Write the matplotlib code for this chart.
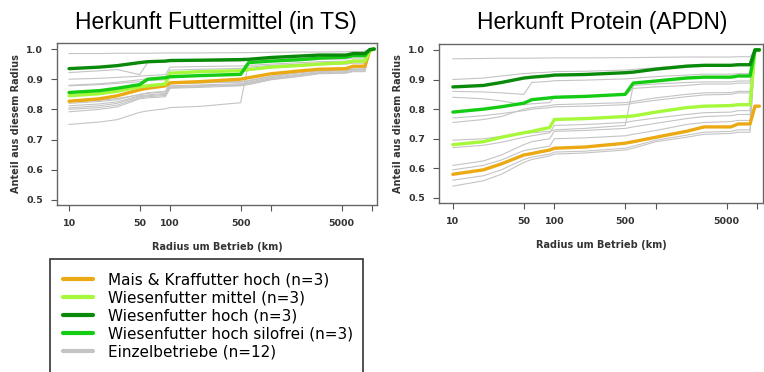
import numpy as np
import matplotlib
matplotlib.use('Agg')
import matplotlib.pyplot as plt
from matplotlib.patches import Rectangle

# shared radius grid (km)
radius = [10, 20, 30, 50, 60, 90, 100, 200, 500, 600, 1000, 2000, 3000, 5500, 6500, 8500, 9500, 10500]

# --- Herkunft Futtermittel (in TS) ---
feed_mais = [0.827, 0.835, 0.845, 0.865, 0.870, 0.878, 0.888, 0.892, 0.900, 0.905, 0.918, 0.928, 0.933, 0.935, 0.943, 0.943, 0.995, 1.0]
feed_mittel = [0.845, 0.852, 0.860, 0.875, 0.878, 0.884, 0.920, 0.925, 0.928, 0.932, 0.940, 0.946, 0.950, 0.955, 0.960, 0.960, 0.995, 1.0]
feed_hoch = [0.935, 0.940, 0.945, 0.955, 0.958, 0.960, 0.962, 0.963, 0.965, 0.966, 0.972, 0.977, 0.980, 0.980, 0.985, 0.985, 0.998, 1.0]
feed_silofrei = [0.856, 0.862, 0.870, 0.882, 0.900, 0.905, 0.908, 0.912, 0.916, 0.955, 0.960, 0.965, 0.970, 0.973, 0.978, 0.978, 0.998, 1.0]
feed_single = [
    [0.985, 0.985, 0.986, 0.986, 0.986, 0.987, 0.987, 0.987, 0.988, 0.988, 0.989, 0.990, 0.990, 0.991, 0.992, 0.992, 1.0, 1.0],
    [0.922, 0.928, 0.932, 0.915, 0.955, 0.957, 0.958, 0.959, 0.960, 0.962, 0.966, 0.970, 0.973, 0.975, 0.978, 0.978, 1.0, 1.0],
    [0.900, 0.903, 0.906, 0.910, 0.912, 0.915, 0.940, 0.942, 0.944, 0.946, 0.950, 0.955, 0.958, 0.960, 0.963, 0.963, 1.0, 1.0],
    [0.880, 0.885, 0.890, 0.898, 0.902, 0.906, 0.930, 0.933, 0.936, 0.940, 0.946, 0.950, 0.953, 0.955, 0.958, 0.958, 1.0, 1.0],
    [0.878, 0.882, 0.886, 0.892, 0.895, 0.898, 0.920, 0.923, 0.926, 0.930, 0.938, 0.944, 0.948, 0.950, 0.953, 0.953, 1.0, 1.0],
    [0.820, 0.826, 0.832, 0.850, 0.853, 0.858, 0.885, 0.888, 0.892, 0.896, 0.910, 0.922, 0.928, 0.930, 0.934, 0.934, 1.0, 1.0],
    [0.812, 0.818, 0.825, 0.845, 0.848, 0.853, 0.878, 0.881, 0.885, 0.890, 0.905, 0.918, 0.925, 0.928, 0.932, 0.932, 1.0, 1.0],
    [0.805, 0.812, 0.820, 0.842, 0.845, 0.850, 0.875, 0.878, 0.882, 0.887, 0.902, 0.915, 0.922, 0.925, 0.930, 0.930, 1.0, 1.0],
    [0.800, 0.806, 0.814, 0.838, 0.842, 0.846, 0.872, 0.876, 0.880, 0.885, 0.900, 0.912, 0.920, 0.922, 0.927, 0.927, 1.0, 1.0],
    [0.792, 0.800, 0.808, 0.835, 0.838, 0.842, 0.870, 0.873, 0.878, 0.882, 0.898, 0.910, 0.918, 0.920, 0.925, 0.925, 1.0, 1.0],
    [0.750, 0.758, 0.766, 0.790, 0.795, 0.802, 0.806, 0.810, 0.822, 0.955, 0.958, 0.962, 0.965, 0.967, 0.970, 0.970, 1.0, 1.0],
    [0.825, 0.830, 0.836, 0.848, 0.855, 0.860, 0.885, 0.888, 0.890, 0.894, 0.908, 0.925, 0.932, 0.935, 0.938, 0.938, 1.0, 1.0],
]

# --- Herkunft Protein (APDN) ---
prot_mais = [0.580, 0.595, 0.615, 0.645, 0.650, 0.662, 0.668, 0.672, 0.685, 0.690, 0.705, 0.725, 0.740, 0.740, 0.750, 0.750, 0.810, 0.810]
prot_mittel = [0.680, 0.690, 0.705, 0.720, 0.725, 0.738, 0.765, 0.768, 0.775, 0.777, 0.790, 0.805, 0.810, 0.812, 0.815, 0.815, 1.0, 1.0]
prot_hoch = [0.875, 0.880, 0.890, 0.905, 0.908, 0.913, 0.915, 0.917, 0.923, 0.925, 0.935, 0.945, 0.948, 0.948, 0.950, 0.950, 1.0, 1.0]
prot_silofrei = [0.790, 0.800, 0.808, 0.820, 0.832, 0.838, 0.840, 0.843, 0.850, 0.888, 0.895, 0.905, 0.908, 0.908, 0.912, 0.912, 1.0, 1.0]
prot_single = [
    [0.970, 0.971, 0.972, 0.972, 0.972, 0.973, 0.973, 0.973, 0.974, 0.974, 0.975, 0.976, 0.976, 0.976, 0.977, 0.977, 1.0, 1.0],
    [0.900, 0.905, 0.912, 0.920, 0.922, 0.925, 0.927, 0.928, 0.932, 0.934, 0.940, 0.948, 0.950, 0.950, 0.952, 0.952, 1.0, 1.0],
    [0.860, 0.858, 0.855, 0.850, 0.890, 0.894, 0.896, 0.898, 0.902, 0.904, 0.910, 0.915, 0.918, 0.918, 0.920, 0.920, 1.0, 1.0],
    [0.840, 0.835, 0.828, 0.815, 0.818, 0.822, 0.842, 0.845, 0.848, 0.870, 0.875, 0.880, 0.885, 0.885, 0.888, 0.888, 1.0, 1.0],
    [0.770, 0.778, 0.785, 0.795, 0.800, 0.805, 0.808, 0.810, 0.815, 0.820, 0.830, 0.842, 0.848, 0.850, 0.855, 0.855, 1.0, 1.0],
    [0.755, 0.765, 0.775, 0.800, 0.805, 0.812, 0.815, 0.818, 0.822, 0.826, 0.838, 0.850, 0.855, 0.856, 0.860, 0.860, 1.0, 1.0],
    [0.695, 0.700, 0.708, 0.718, 0.720, 0.725, 0.730, 0.735, 0.745, 0.880, 0.885, 0.890, 0.892, 0.892, 0.895, 0.895, 1.0, 1.0],
    [0.670, 0.678, 0.688, 0.705, 0.710, 0.720, 0.745, 0.748, 0.755, 0.760, 0.770, 0.782, 0.788, 0.790, 0.795, 0.795, 1.0, 1.0],
    [0.610, 0.625, 0.645, 0.680, 0.690, 0.700, 0.725, 0.728, 0.735, 0.740, 0.752, 0.768, 0.775, 0.778, 0.782, 0.782, 1.0, 1.0],
    [0.595, 0.610, 0.628, 0.660, 0.665, 0.675, 0.700, 0.703, 0.710, 0.715, 0.728, 0.748, 0.755, 0.758, 0.762, 0.762, 1.0, 1.0],
    [0.560, 0.575, 0.595, 0.630, 0.638, 0.648, 0.655, 0.658, 0.668, 0.675, 0.695, 0.712, 0.722, 0.725, 0.730, 0.730, 1.0, 1.0],
    [0.540, 0.558, 0.580, 0.620, 0.630, 0.642, 0.648, 0.652, 0.662, 0.668, 0.690, 0.705, 0.715, 0.718, 0.722, 0.722, 1.0, 1.0],
]

group_labels = ['Mais & Kraffutter hoch (n=3)', 'Wiesenfutter mittel (n=3)', 'Wiesenfutter hoch (n=3)',
                'Wiesenfutter hoch silofrei (n=3)', 'Einzelbetriebe (n=12)']
group_colors = ['#EBAA14', '#A6F83A', '#0A8A0A', '#14CC14', '#C4C4C4']

titles = ['Herkunft Futtermittel (in TS)', 'Herkunft Protein (APDN)']
xticks = [10, 50, 100, 500, 1000, 5000, 10000]
xticklabels = ['10', '50', '100', '500', '', '5000', '']
yticks = [0.5, 0.6, 0.7, 0.8, 0.9, 1.0]

fig = plt.figure(figsize=(7.64, 3.72), dpi=100)
ax1 = fig.add_axes([57/764, 1 - 205/372, 320/764, 162/372])
ax2 = fig.add_axes([439/764, 1 - 203/372, 324/764, 159/372])

panels = [
    (ax1, feed_single, [feed_mais, feed_mittel, feed_hoch, feed_silofrei], (7.6, 11200)),
    (ax2, prot_single, [prot_mais, prot_mittel, prot_hoch, prot_silofrei], (7.3, 11400)),
]

for ax, singles, groups, xlim in panels:
    for s in singles:
        ax.plot(radius, s, color=group_colors[4], lw=0.8, zorder=1)
    # draw order: mais, mittel, silofrei, hoch
    for i in [0, 1, 3, 2]:
        ax.plot(radius, groups[i], color=group_colors[i], lw=2.4, solid_capstyle='round', zorder=2)
    ax.set_xscale('log')
    ax.set_xlim(*xlim)
    ax.set_ylim(0.483, 1.02)
    ax.set_xticks(xticks)
    ax.set_xticklabels(xticklabels)
    ax.minorticks_off()
    ax.set_yticks(yticks)
    ax.set_yticklabels([f'{v:.1f}' for v in yticks])
    for lab in ax.get_xticklabels() + ax.get_yticklabels():
        lab.set_fontweight('bold')
        lab.set_fontsize(6.8)
        lab.set_color('#333333')
    ax.tick_params(length=4, width=0.8, color='#555555', pad=6)
    for sp in ax.spines.values():
        sp.set_color('#666666')
        sp.set_linewidth(1.0)
    ax.set_xlabel('Radius um Betrieb (km)', fontsize=7, fontweight='bold', color='#333333', labelpad=10)
    ax.set_ylabel('Anteil aus diesem Radius', fontsize=7, fontweight='bold', color='#333333', labelpad=4)

fig.text(216/764, 1 - 23/372, titles[0], ha='center', va='center', fontsize=16.5, family='Liberation Sans')
fig.text(602/764, 1 - 23/372, titles[1], ha='center', va='center', fontsize=16.5, family='Liberation Sans')

# legend box runs past the bottom edge of the figure
fig.add_artist(Rectangle((50/764, -0.05), 313/764, 1 - 259/372 + 0.05, transform=fig.transFigure,
                         facecolor='white', edgecolor='#333333', lw=1.2, zorder=3))
handles = [plt.Line2D([], [], color=c, lw=3, solid_capstyle='round') for c in group_colors]
leg = fig.legend(handles, group_labels, loc='upper left', bbox_to_anchor=(58/764, 1 - 268/372),
                 fontsize=11, frameon=False, handlelength=2.0, handletextpad=1.0,
                 labelspacing=0.2, borderpad=0.3, borderaxespad=0)
leg.set_zorder(4)

plt.savefig('out.png', dpi=100)
